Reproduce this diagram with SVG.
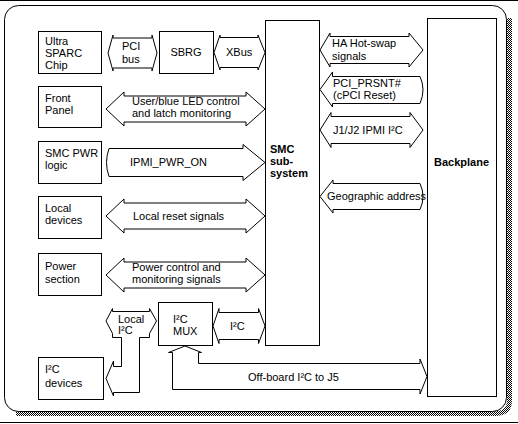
<svg xmlns="http://www.w3.org/2000/svg" width="518" height="424" viewBox="0 0 518 424">
<defs>
<pattern id="dither" width="2" height="2" patternUnits="userSpaceOnUse">
<rect x="0" y="0" width="2" height="2" fill="#fff"/>
<rect x="0" y="0" width="1" height="1" fill="#000"/>
<rect x="1" y="1" width="1" height="1" fill="#000"/>
</pattern>
</defs>
<style>
.box{fill:#fff;stroke:#000;stroke-width:1}
.arr{fill:#fff;stroke:#000;stroke-width:1;stroke-linejoin:miter}
text{font-family:"Liberation Sans",Arial,sans-serif;font-size:11px;fill:#000}
.b{font-weight:bold}
</style>
<rect x="0" y="0" width="518" height="424" fill="#fff"/>
<line x1="0" y1="0.5" x2="518" y2="0.5" stroke="#000"/>
<line x1="0" y1="422.5" x2="518" y2="422.5" stroke="#000"/>
<g id="frame">
<path d="M509.5,18 L509.5,400 Q509.5,413.5 496,413.5 L16,413.5" fill="none" stroke="url(#dither)" stroke-width="5"/>
<rect x="4.5" y="5.5" width="502" height="406" rx="14" ry="14" fill="#fff" stroke="#000"/>
</g>
<g id="connectors">
<polygon class="arr" points="108,53 113,35 113,38 152,38 152,35 157,53 152,71 152,68 113,68 113,71"/>
<polygon class="arr" points="214,52.5 220,35 220,37.5 258,37.5 258,35 265,52.5 258,70 258,67.5 220,67.5 220,70"/>
<polygon class="arr" points="106,109 124,92 124,96 246,96 246,92 265,109 246,126 246,122 124,122 124,126"/>
<path class="arr" d="M109,148.5 L243,148.5 L243,144.5 L265,162.5 L243,180.5 L243,176.5 L109,176.5 Q104,162.5 109,148.5 Z"/>
<polygon class="arr" points="106,216 124,199 124,203 246,203 246,199 265,216 246,233 246,229 124,229 124,233"/>
<polygon class="arr" points="106,275 124,258 124,262 246,262 246,258 265,275 246,292 246,288 124,288 124,292"/>
<polygon class="arr" points="106,321 112.5,308.5 112.5,311.5 149.5,311.5 149.5,308.5 156.5,321 149.5,333.5 149.5,337.5 139.5,337.5 139.5,392.5 113.5,392.5 113.5,396 106,378.5 113.5,361 113.5,366.5 121.5,366.5 121.5,337.5 112.5,337.5 112.5,333.5"/>
<polygon class="arr" points="213,326 219,308.5 219,312.5 258.5,312.5 258.5,308.5 265,326 258.5,343.5 258.5,339.5 219,339.5 219,343.5"/>
<polygon class="arr" points="185,346 201.5,352.5 198.5,352.5 198.5,363.5 420,363.5 420,359 427,376.5 420,394 420,389.5 172.5,389.5 172.5,352.5 168.5,352.5"/>
<polygon class="arr" points="320,50 330,33 330,36.5 409,36.5 409,33 423,50 409,67 409,63.5 330,63.5 330,67"/>
<path class="arr" d="M320,89.5 L332.5,72 L332.5,76.5 L420,76.5 Q426,89.5 420,103.5 L332.5,103.5 L332.5,107 Z"/>
<polygon class="arr" points="320,130 331,112.5 331,116.5 410,116.5 410,112.5 423,130 410,147.5 410,143.5 331,143.5 331,147.5"/>
<path class="arr" d="M320,196.5 L333,180 L333,183.5 L420,183.5 Q426,196.5 420,209.5 L333,209.5 L333,213 Z"/>
</g>
<g id="labels">
<text x="122" y="50">PCI</text>
<text x="122" y="63">bus</text>
<text x="226" y="56">XBus</text>
<text x="132" y="105">User/blue LED control</text>
<text x="132" y="117">and latch monitoring</text>
<text x="130" y="166">IPMI_PWR_ON</text>
<text x="133" y="220">Local reset signals</text>
<text x="132" y="271">Power control and</text>
<text x="132" y="283">monitoring signals</text>
<text x="118" y="323">Local</text>
<text x="118" y="334">I²C</text>
<text x="230" y="330">I²C</text>
<text x="248" y="381">Off-board I²C to J5</text>
<text x="332" y="47">HA Hot-swap</text>
<text x="332" y="60">signals</text>
<text x="333" y="87">PCI_PRSNT#</text>
<text x="333" y="99">(cPCI Reset)</text>
<text x="333" y="134">J1/J2 IPMI I²C</text>
<text x="327" y="200">Geographic address</text>
</g>
<g id="ultrasparc">
<rect class="box" x="38.5" y="31.5" width="63" height="42"/>
<text x="45" y="45">Ultra</text>
<text x="45" y="57">SPARC</text>
<text x="45" y="69">Chip</text>
</g>
<g id="sbrg">
<rect class="box" x="159.5" y="31.5" width="54" height="42"/>
<text x="186" y="56" text-anchor="middle">SBRG</text>
</g>
<g id="frontpanel">
<rect class="box" x="38.5" y="86.5" width="63" height="41"/>
<text x="45" y="102">Front</text>
<text x="45" y="114">Panel</text>
</g>
<g id="smcpwr">
<rect class="box" x="38.5" y="141.5" width="63" height="42"/>
<text x="45" y="157">SMC PWR</text>
<text x="45" y="169">logic</text>
</g>
<g id="localdevices">
<rect class="box" x="38.5" y="196.5" width="63" height="42"/>
<text x="45" y="212">Local</text>
<text x="45" y="224">devices</text>
</g>
<g id="powersection">
<rect class="box" x="38.5" y="253.5" width="63" height="42"/>
<text x="45" y="270">Power</text>
<text x="45" y="283">section</text>
</g>
<g id="i2cmux">
<rect class="box" x="158.5" y="302.5" width="54" height="43"/>
<text x="173" y="323">I²C</text>
<text x="173" y="335">MUX</text>
</g>
<g id="i2cdevices">
<rect class="box" x="38.5" y="357.5" width="65" height="42"/>
<text x="45" y="373">I²C</text>
<text x="45" y="387">devices</text>
</g>
<g id="smc">
<rect class="box" x="265.5" y="20.5" width="54" height="325"/>
<text class="b" x="270" y="153">SMC</text>
<text class="b" x="270" y="165">sub-</text>
<text class="b" x="270" y="177">system</text>
</g>
<g id="backplane">
<rect class="box" x="427.5" y="18.5" width="69" height="378"/>
<text class="b" x="434" y="166">Backplane</text>
</g>
</svg>
